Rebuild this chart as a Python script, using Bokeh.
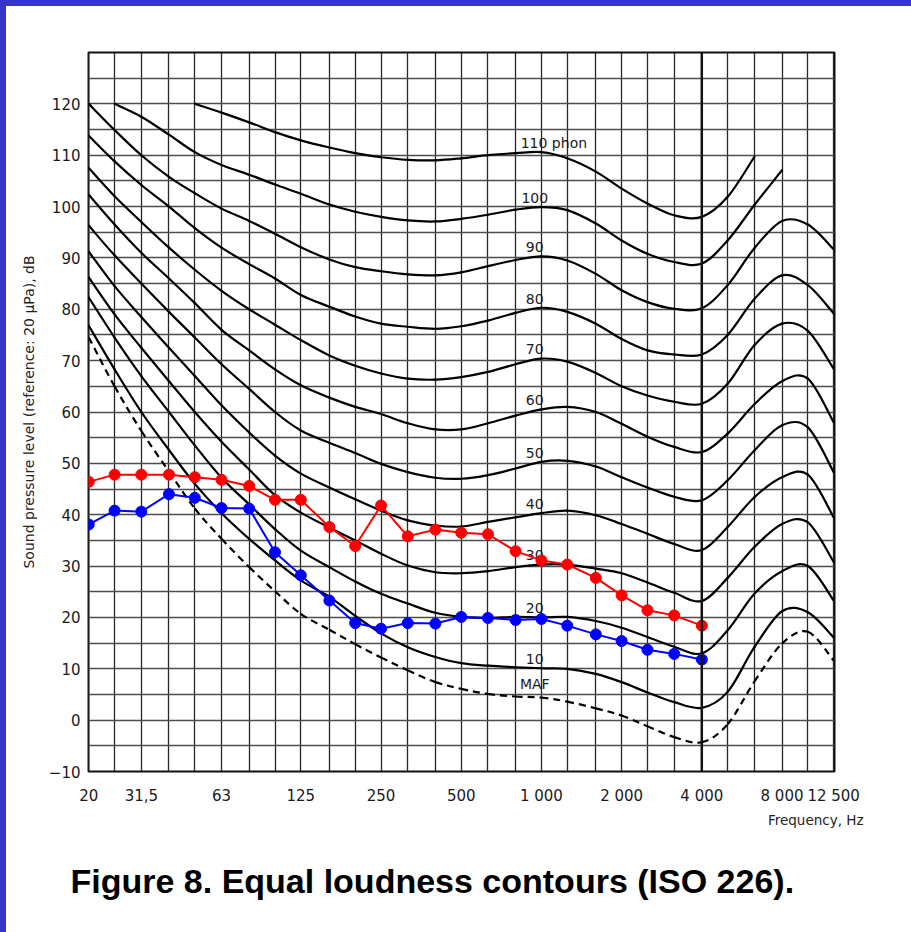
import numpy as np
from bokeh.plotting import figure
from bokeh.models import FixedTicker, Title, Span, Div
from bokeh.layouts import column, row
from bokeh.core.properties import value
from bokeh.embed import file_html
from bokeh.resources import INLINE

# One-third-octave band centre frequencies, Hz
freqs = [20, 25, 31.5, 40, 50, 63, 80, 100, 125, 160, 200, 250, 315, 400, 500,
         630, 800, 1000, 1250, 1600, 2000, 2500, 3150, 4000, 5000, 6300, 8000,
         10000, 12500]

# Equal-loudness contours, sound pressure level in dB per band (None = not drawn)
maf = [74.5, 65.0, 56.3, 48.4, 41.2, 35.3, 29.8, 25.1, 20.7, 17.6, 14.8, 12.2, 9.7,
       7.4, 6.1, 5.1, 4.6, 4.4, 3.6, 2.3, 0.9, -1.2, -3.3, -4.3, -0.8, 7.5, 14.9,
       17.2, 11.6]
phon_10 = [76.8, 68.3, 60.0, 52.6, 46.0, 40.3, 35.3, 31.1, 27.2, 24.0, 20.3, 16.9,
           14.2, 12.3, 11.1, 10.6, 10.3, 10.1, 10.0, 9.0, 7.4, 5.4, 3.5, 2.4, 5.5,
           14.2, 21.2, 21.0, 16.1]
phon_20 = [82.3, 74.5, 67.0, 60.0, 53.5, 47.2, 42.0, 37.2, 33.0, 29.8, 27.0, 24.6,
           22.7, 20.9, 20.1, 19.9, 20.1, 20.0, 20.1, 19.3, 18.0, 16.2, 14.3, 13.0,
           17.5, 24.6, 29.0, 30.0, 23.3]
phon_30 = [86.2, 79.0, 72.5, 66.0, 60.0, 54.2, 48.8, 43.8, 40.4, 37.5, 35.0, 32.4,
           30.1, 28.8, 28.6, 29.0, 29.8, 30.3, 30.3, 29.5, 28.6, 26.8, 24.8, 23.2,
           27.7, 33.7, 38.2, 38.5, 30.8]
phon_40 = [91.2, 84.5, 78.5, 72.5, 67.0, 61.3, 56.0, 51.5, 48.0, 45.3, 43.0, 40.8,
           38.9, 37.9, 37.7, 38.6, 39.5, 40.3, 40.8, 39.9, 38.2, 36.3, 34.3, 33.1,
           37.6, 43.4, 47.3, 47.8, 39.5]
phon_50 = [96.3, 90.5, 85.0, 79.5, 74.5, 69.3, 64.5, 60.0, 56.4, 54.0, 52.0, 49.9,
           48.3, 47.2, 47.0, 47.7, 49.0, 50.3, 50.5, 49.4, 47.3, 45.3, 43.5, 42.8,
           46.7, 52.5, 57.4, 57.0, 48.3]
phon_60 = [102.3, 96.5, 91.0, 86.0, 81.2, 76.0, 72.0, 68.3, 65.2, 62.8, 61.0, 59.6,
           57.8, 56.6, 56.6, 57.8, 59.3, 60.5, 61.0, 60.0, 57.7, 55.2, 53.2, 52.2,
           55.8, 61.5, 66.0, 66.5, 58.0]
phon_70 = [107.5, 102.0, 97.0, 92.0, 87.7, 83.6, 80.0, 77.0, 74.0, 71.0, 69.0, 67.5,
           66.5, 66.3, 66.8, 67.8, 69.3, 70.4, 69.8, 67.6, 65.0, 63.2, 62.0, 61.6,
           65.5, 73.0, 77.2, 75.8, 68.4]
phon_80 = [113.8, 108.8, 104.2, 100.0, 95.8, 92.0, 88.8, 86.0, 82.8, 80.5, 78.6,
           77.2, 76.6, 76.2, 76.7, 77.8, 79.3, 80.3, 79.5, 77.2, 74.2, 72.0, 71.2,
           71.2, 75.0, 82.0, 86.6, 84.7, 79.2]
phon_90 = [120.0, 114.9, 110.0, 105.8, 102.6, 99.6, 97.2, 94.7, 92.1, 89.7, 88.2,
           87.4, 86.8, 86.6, 87.2, 88.4, 89.6, 90.3, 89.5, 86.9, 83.7, 81.4, 80.1,
           80.2, 84.7, 91.9, 97.2, 96.5, 91.7]
phon_100 = [None, 120.0, 117.5, 114.0, 110.6, 108.1, 106.2, 104.3, 102.5, 100.4,
            99.0, 98.0, 97.3, 97.1, 97.6, 98.4, 99.4, 99.9, 99.3, 96.7, 93.4, 90.8,
            89.2, 88.9, 93.4, 100.3, 107.1, None, None]
phon_110 = [None, None, None, None, 120.0, 118.3, 116.4, 114.5, 112.9, 111.5, 110.4,
            109.6, 109.1, 109.0, 109.4, 110.0, 110.4, 110.6, 109.4, 106.8, 103.5,
            100.6, 98.3, 98.0, 101.9, 109.7, None, None, None]

contours = [phon_10, phon_20, phon_30, phon_40, phon_50, phon_60, phon_70,
            phon_80, phon_90, phon_100, phon_110]
contour_labels = ["10", "20", "30", "40", "50", "60", "70", "80", "90", "100",
                  "110 phon"]

# Measured hearing levels, 20 Hz to 4 kHz
meas_freqs = freqs[:24]
red_levels = [46.4, 47.8, 47.8, 47.8, 47.3, 46.8, 45.6, 42.9, 42.9, 37.6, 33.9,
              41.8, 35.8, 37.1, 36.5, 36.2, 32.9, 31.1, 30.3, 27.7, 24.3, 21.4,
              20.4, 18.4]
blue_levels = [38.1, 40.8, 40.6, 44.0, 43.3, 41.3, 41.2, 32.7, 28.2, 23.3, 18.9,
               17.8, 18.9, 18.8, 20.1, 19.9, 19.5, 19.7, 18.4, 16.7, 15.4, 13.7,
               12.9, 11.8]

x_tick_values = [20, 31.5, 63, 125, 250, 500, 1000, 2000, 4000, 8000, 12500]
x_tick_labels = ["20", "31,5", "63", "125", "250", "500", "1 000", "2 000",
                 "4 000", "8 000", "12 500"]
y_tick_values = list(range(-10, 121, 10))
y_grid_values = list(range(-10, 131, 5))

TICK_FONT = "DejaVu Sans"


def smooth_pieces(fs, levels):
    """Cubic Bezier pieces (Catmull-Rom tangents, log-frequency space) passing
    through every given point of a contour."""
    arr = np.array(levels, dtype=float)
    keep = ~np.isnan(arr)
    lx = np.log10(np.array(fs, dtype=float)[keep])
    ly = arr[keep]
    n = len(lx)
    out = {k: [] for k in ("x0", "y0", "x1", "y1", "cx0", "cy0", "cx1", "cy1")}
    for i in range(n - 1):
        a = max(i - 1, 0)
        d = min(i + 2, n - 1)
        out["x0"].append(10 ** lx[i])
        out["y0"].append(ly[i])
        out["x1"].append(10 ** lx[i + 1])
        out["y1"].append(ly[i + 1])
        out["cx0"].append(10 ** (lx[i] + (lx[i + 1] - lx[a]) / 6))
        out["cy0"].append(ly[i] + (ly[i + 1] - ly[a]) / 6)
        out["cx1"].append(10 ** (lx[i + 1] - (lx[d] - lx[i]) / 6))
        out["cy1"].append(ly[i + 1] - (ly[d] - ly[i]) / 6)
    return out


p = figure(width=905, height=926, x_axis_type="log",
           x_range=(10 ** 1.3, 10 ** 4.1), y_range=(-10, 130),
           output_backend="svg", toolbar_location=None,
           min_border_left=82, min_border_right=77,
           min_border_top=46, min_border_bottom=161)
p.background_fill_color = "white"
p.border_fill_color = "white"
p.outline_line_color = "#111111"
p.outline_line_width = 2

# Grid: every third-octave band vertically, every 5 dB horizontally
p.xgrid.ticker = FixedTicker(ticks=freqs)
p.ygrid.ticker = FixedTicker(ticks=y_grid_values)
p.xgrid.grid_line_color = "#262626"
p.xgrid.grid_line_width = 1.3
p.ygrid.grid_line_color = "#4d4d4d"
p.ygrid.grid_line_width = 1.6
p.add_layout(Span(location=4000, dimension="height", line_color="#111111",
                  line_width=2.4))

# Axes
p.xaxis.ticker = FixedTicker(ticks=x_tick_values)
p.xaxis.major_label_overrides = dict(zip(x_tick_values, x_tick_labels))
p.yaxis.ticker = FixedTicker(ticks=y_tick_values)
for ax in (p.xaxis[0], p.yaxis[0]):
    ax.axis_line_color = None
    ax.major_tick_line_color = None
    ax.minor_tick_line_color = None
    ax.major_tick_out = 0
    ax.major_tick_in = 0
    ax.major_label_text_font = TICK_FONT
    ax.major_label_text_font_size = "15px"
    ax.major_label_text_color = "#1a1a1a"
p.xaxis.major_label_standoff = 15
p.yaxis.major_label_standoff = 8
p.yaxis.axis_label = "Sound pressure level (reference: 20 \u00b5Pa), dB"
p.yaxis.axis_label_text_font = TICK_FONT
p.yaxis.axis_label_text_font_size = "14px"
p.yaxis.axis_label_text_font_style = "normal"
p.yaxis.axis_label_text_color = "#222222"
p.yaxis.axis_label_standoff = 9

# Contours drawn as smooth curves through the band values
for levels in contours:
    p.bezier(**smooth_pieces(freqs, levels), line_color="black", line_width=2.2,
             line_cap="round")
p.bezier(**smooth_pieces(freqs, maf), line_color="black", line_width=2.2,
         line_dash="7 5")

# Contour labels just above each curve near 1 kHz
label_y = [c[17] + 1.8 for c in contours]
p.text(x=[944] * 10, y=label_y[:10], text=contour_labels[:10],
       text_font=value(TICK_FONT), text_font_size="14px", text_color="#1a1a1a",
       text_align="center", text_baseline="middle")
p.text(x=[836], y=label_y[10:], text=contour_labels[10:],
       text_font=value(TICK_FONT), text_font_size="14px", text_color="#1a1a1a",
       text_align="left", text_baseline="middle")
p.text(x=[944], y=[maf[17] + 2.7], text=["MAF"], text_font=value(TICK_FONT),
       text_font_size="14px", text_color="#1a1a1a", text_align="center",
       text_baseline="middle")

# Measured series
p.line(meas_freqs, red_levels, line_color="#ff0000", line_width=2)
p.scatter(meas_freqs, red_levels, size=11, fill_color="#ff0000",
          line_color="#ff0000")
p.line(meas_freqs, blue_levels, line_color="#0000ff", line_width=2)
p.scatter(meas_freqs, blue_levels, size=11, fill_color="#0000ff",
          line_color="#0000ff")

# Axis caption and figure caption under the chart
p.add_layout(Title(text="Frequency, Hz", align="right", offset=-29,
                   text_font=TICK_FONT, text_font_size="13.5px",
                   text_font_style="normal", text_color="#222222",
                   standoff=4), "below")
p.add_layout(Title(text="Figure 8. Equal loudness contours (ISO 226).",
                   align="left", offset=-18, text_font="Liberation Sans",
                   text_font_size="34px", text_font_style="bold",
                   text_color="black", standoff=61), "below")

top_band = Div(width=911, height=6, margin=0,
               styles={"background-color": "#3535c9"})
left_band = Div(width=6, height=926, margin=0,
                styles={"background-color": "#3535c9"})
layout = column(top_band, row(left_band, p, spacing=0), spacing=0)

open("out.html", "w").write(file_html(layout, INLINE))
